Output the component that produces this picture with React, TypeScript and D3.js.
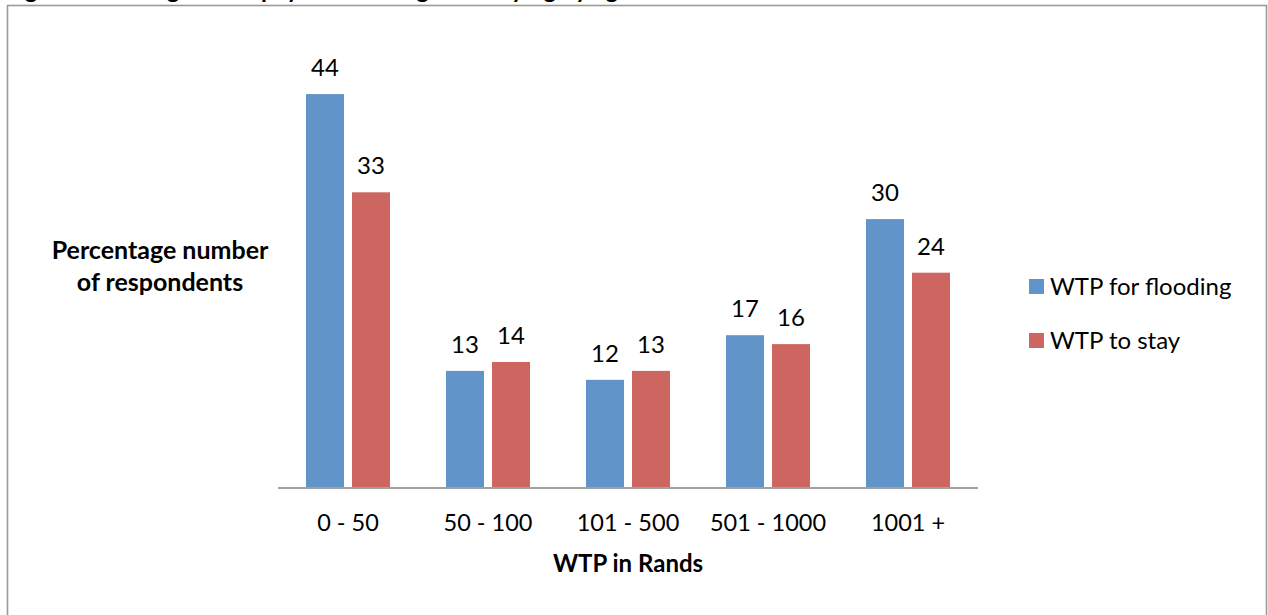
import React from "react";
import * as d3 from "d3";

// Willingness-to-pay bands (Rands) and percentage of respondents per band
const categories = ["0 - 50", "50 - 100", "101 - 500", "501 - 1000", "1001 +"];
const seriesNames = ["WTP for flooding", "WTP to stay"];
const wtpFlooding = [44, 13, 12, 17, 30];
const wtpStay = [33, 14, 13, 16, 24];
const seriesColors = ["#6195C9", "#CD6660"];

const titleText = "Figure 5: Willingness to pay for flooding and staying by age";
const yAxisTitle = ["Percentage number", "of respondents"];
const xAxisTitle = "WTP in Rands";

const W = 1268;
const H = 615;
const FONT = "Lato, 'Open Sans', sans-serif";

export default function App() {
  const baseY = 487;
  const plotLeft = 278;
  const plotRight = 978;

  const y = d3.scaleLinear().domain([0, 50]).range([baseY, baseY - 50 * 8.93]);
  const x0 = d3
    .scaleBand<string>()
    .domain(categories)
    .range([plotLeft, plotRight])
    .paddingInner(0.4)
    .paddingOuter(0.2);
  const x1 = d3
    .scaleBand<string>()
    .domain(seriesNames)
    .range([0, x0.bandwidth()])
    .paddingInner(8 / 46)
    .paddingOuter(0);

  const values = [wtpFlooding, wtpStay];

  return (
    <svg
      width={W}
      height={H}
      viewBox={`0 0 ${W} ${H}`}
      style={{ position: "absolute", left: 0, top: 0, background: "#fff" }}
      fontFamily={FONT}
    >
      {/* caption of the figure, running above the frame */}
      <text x={5} y={-2} fontSize={24} fontWeight={700} fill="#000">
        {titleText}
      </text>

      {/* chart frame */}
      <rect x={7.5} y={5.5} width={1259} height={640} fill="#fff" stroke="#9a9a9a" strokeWidth={1.6} />

      {/* bars */}
      {categories.map((cat, ci) => (
        <g key={cat} transform={`translate(${x0(cat)},0)`}>
          {seriesNames.map((s, si) => {
            const v = values[si][ci];
            const bx = x1(s) as number;
            const bw = x1.bandwidth();
            const top = y(v);
            return (
              <g key={s}>
                <rect x={bx} y={top} width={bw} height={baseY - top} fill={seriesColors[si]} />
                <text
                  x={bx + bw / 2}
                  y={top - 18}
                  textAnchor="middle"
                  fontSize={24}
                  fill="#000"
                >
                  {v}
                </text>
              </g>
            );
          })}
        </g>
      ))}

      {/* category axis */}
      <line x1={plotLeft} x2={plotRight} y1={baseY + 1} y2={baseY + 1} stroke="#a0a0a0" strokeWidth={2} />
      {categories.map((cat) => (
        <text
          key={cat}
          x={(x0(cat) as number) + x0.bandwidth() / 2}
          y={531}
          textAnchor="middle"
          fontSize={23.5}
          fill="#000"
        >
          {cat}
        </text>
      ))}
      <text x={628} y={572} textAnchor="middle" fontSize={24} fontWeight={700} fill="#000">
        {xAxisTitle}
      </text>

      {/* value axis title */}
      {yAxisTitle.map((line, i) => (
        <text key={line} x={160} y={259 + i * 32} textAnchor="middle" fontSize={25} fontWeight={700} fill="#000">
          {line}
        </text>
      ))}

      {/* legend */}
      {seriesNames.map((s, i) => (
        <g key={s} transform={`translate(1029,${279 + i * 54})`}>
          <rect x={0} y={0} width={15} height={15} fill={seriesColors[i]} />
          <text x={21} y={16} fontSize={24} fill="#000">
            {s}
          </text>
        </g>
      ))}
    </svg>
  );
}
